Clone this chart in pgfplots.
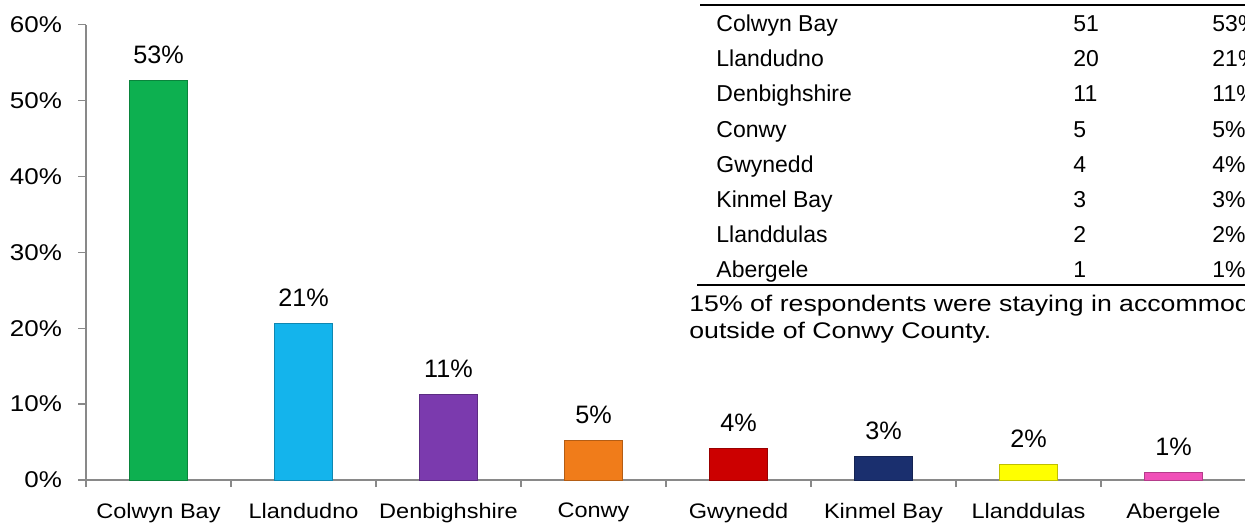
\documentclass[border=0pt]{standalone}
\usepackage{pgfplots}
\pgfplotsset{compat=1.18}
\usepackage{fontspec}
\setmainfont{Liberation Sans}
\newfontfamily\fYT{Liberation Sans}[FakeStretch=1.14]
\newfontfamily\fXT{Liberation Sans}[FakeStretch=1.12]
\newfontfamily\fNote{Liberation Sans}[FakeStretch=1.18]
\definecolor{cgreen}{HTML}{0DB050}
\definecolor{ccyan}{HTML}{14B4EC}
\definecolor{cpurple}{HTML}{7B3AAE}
\definecolor{corange}{HTML}{F07C1A}
\definecolor{cred}{HTML}{CC0000}
\definecolor{cnavy}{HTML}{1A2F6E}
\definecolor{cyellow}{HTML}{FFFF00}
\definecolor{cpink}{HTML}{F050B8}
\definecolor{axgray}{HTML}{898989}
\newcommand{\fsY}{\fYT\fontsize{11.4}{13.7}\selectfont}
\newcommand{\fsX}{\fXT\fontsize{10.5}{12.6}\selectfont}
\newcommand{\fsB}{\fontsize{12.6}{15}\selectfont}
\newcommand{\fsT}{\fontsize{11.5}{13.8}\selectfont}
\newcommand{\fsN}{\fNote\fontsize{11.3}{13.5}\selectfont}
\begin{document}
\begin{tikzpicture}[x=1pt,y=1pt]
\useasboundingbox (0,0) rectangle (622.5,262.5);
\clip (0,0) rectangle (622.5,262.5);
\begin{axis}[
  at={(43pt,22.5pt)}, anchor=south west,
  scale only axis, width=580pt, height=227.7pt,
  xmin=-0.5, xmax=7.5, ymin=0, ymax=60,
  axis x line*=bottom, axis y line*=left,
  axis line style={draw=axgray, line width=0.65pt},
  every tick/.style={draw=axgray, line width=0.65pt},
  tick align=outside,
  xtick={0,...,7},
  xticklabels={Colwyn Bay,Llandudno,Denbighshire,Conwy,Gwynedd,Kinmel Bay,Llanddulas,Abergele},
  major x tick style={draw=none},
  minor xtick={-0.5,0.5,...,7.5},
  minor tick length=3.5pt,
  major tick length=4pt,
  ytick={0,10,...,60},
  yticklabel={\pgfmathprintnumber{\tick}\%},
  /pgf/number format/assume math mode=true,
  xticklabel style={font=\fsX, yshift=-4pt},
  yticklabel style={font=\fsY, xshift=-4.5pt},
  ybar, bar width=29pt, bar shift=0pt,
  point meta=explicit symbolic,
  nodes near coords={\pgfplotspointmeta\%},
  every node near coord/.append style={font=\fsB, anchor=base, yshift=8.5pt, text=black},
]
\addplot[fill=cgreen, draw=cgreen!75!black] coordinates {(0,52.6) [53]};
\addplot[fill=ccyan, draw=ccyan!75!black] coordinates {(1,20.6) [21]};
\addplot[fill=cpurple, draw=cpurple!75!black] coordinates {(2,11.3) [11]};
\addplot[fill=corange, draw=corange!75!black] coordinates {(3,5.2) [5]};
\addplot[fill=cred, draw=cred!75!black] coordinates {(4,4.1) [4]};
\addplot[fill=cnavy, draw=cnavy!75!black] coordinates {(5,3.1) [3]};
\addplot[fill=cyellow, draw=cyellow!75!black] coordinates {(6,2.1) [2]};
\addplot[fill=cpink, draw=cpink!75!black] coordinates {(7,1.0) [1]};
\end{axis}
% data table
\draw[line width=0.85pt] (350,260.15) -- (622.5,260.15);
\draw[line width=0.85pt] (348.5,120) -- (622.5,120);
\foreach \n/\c/\p [count=\i from 0] in {Colwyn Bay/51/53\%,Llandudno/20/21\%,Denbighshire/11/11\%,Conwy/5/5\%,Gwynedd/4/4\%,Kinmel Bay/3/3\%,Llanddulas/2/2\%,Abergele/1/1\%}{
  \pgfmathsetmacro{\yb}{246.65-17.57*\i}
  \node[anchor=base west, inner sep=0pt, font=\fsT] at (358,\yb) {\n};
  \node[anchor=base west, inner sep=0pt, font=\fsT] at (536.5,\yb) {\c};
  \node[anchor=base west, inner sep=0pt, font=\fsT] at (606,\yb) {\p};
}
\node[anchor=base west, inner sep=0pt, font=\fsN] at (344.5,106.75) {15\% of respondents were staying in accommodation};
\node[anchor=base west, inner sep=0pt, font=\fsN] at (344.5,93.25) {outside of Conwy County.};
\end{tikzpicture}
\end{document}
